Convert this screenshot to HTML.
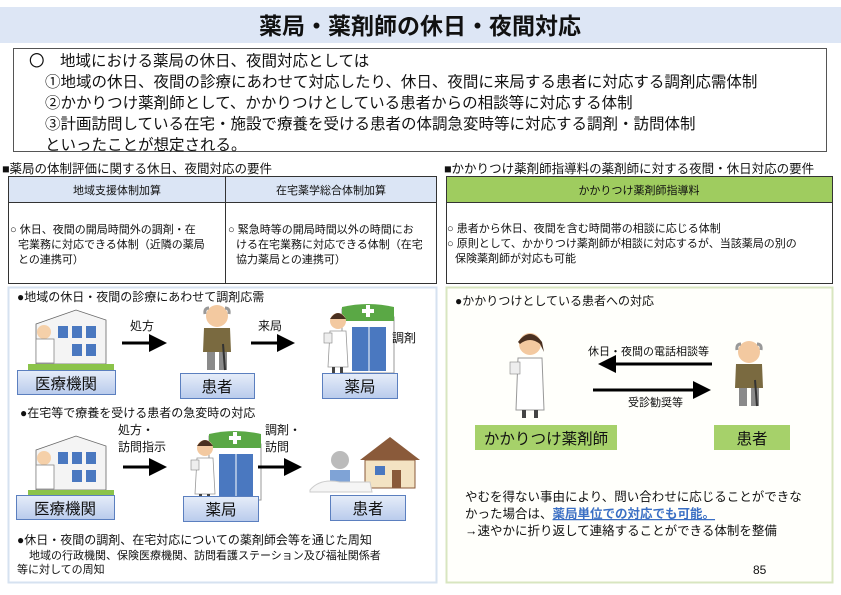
<!DOCTYPE html>
<html><head><meta charset="utf-8"><style>
html,body{margin:0;padding:0;background:#fff;}
svg{display:block;}
text{font-family:"Liberation Sans","Noto Sans CJK JP",sans-serif;fill:#111;}
</style></head><body>
<svg width="841" height="595" viewBox="0 0 841 595" xmlns="http://www.w3.org/2000/svg">
<defs>
<linearGradient id="bl" x1="0" y1="0" x2="0" y2="1"><stop offset="0" stop-color="#e6edf9"/><stop offset="1" stop-color="#b9cbec"/></linearGradient>
<marker id="ah" markerWidth="6" markerHeight="6" refX="5" refY="3" orient="auto" markerUnits="strokeWidth"><path d="M0,0 L6,3 L0,6 z" fill="#000"/></marker>
<g id="bld">
<path d="M0,22 L40,8 L70,18 L70,62 L0,62 z" fill="#f4f4f4" stroke="#666" stroke-width="0.8"/>
<rect x="22" y="24" width="10" height="12" fill="#4a78c0"/><rect x="36" y="24" width="10" height="12" fill="#4a78c0"/><rect x="50" y="24" width="10" height="12" fill="#4a78c0"/>
<rect x="36" y="42" width="10" height="12" fill="#4a78c0"/><rect x="50" y="42" width="10" height="12" fill="#4a78c0"/>
<path d="M-8,62 L78,62 L78,68 L-8,68z" fill="#8bc34a"/>
<circle cx="8" cy="30" r="7" fill="#f5d0a9"/><rect x="0" y="37" width="18" height="24" fill="#fff" stroke="#888" stroke-width="0.8"/>
</g>
<g id="pat">
<circle cx="16" cy="12" r="11" fill="#f3c9a0"/><path d="M4,10 Q3,4 8,4 M28,10 Q29,4 24,4" stroke="#999" stroke-width="3" fill="none"/>
<path d="M3,24 L29,24 L30,48 L2,48z" fill="#7a6a40"/>
<rect x="6" y="48" width="8" height="18" fill="#8a8a8a"/><rect x="18" y="48" width="8" height="18" fill="#8a8a8a"/>
<line x1="22" y1="40" x2="24" y2="66" stroke="#333" stroke-width="2"/>
</g>
<g id="phar">
<path d="M14,6 L60,6 L66,14 L66,70 L14,70z" fill="#fff" stroke="#999"/>
<path d="M14,4 Q40,-2 66,4 L66,18 L14,18z" fill="#5aa845"/>
<rect x="34" y="6" width="12" height="4" fill="#fff"/><rect x="38" y="2" width="4" height="12" fill="#fff"/>
<rect x="24" y="24" width="34" height="44" fill="#4a78c0"/><line x1="41" y1="24" x2="41" y2="68" stroke="#fff"/>
<circle cx="10" cy="18" r="8" fill="#f3c9a0"/><path d="M2,16 Q10,4 18,16" fill="#4a3020"/>
<path d="M2,28 L18,28 L20,64 L0,64z" fill="#fff" stroke="#999" stroke-width="0.8"/>
<rect x="-4" y="30" width="8" height="10" fill="#eee" stroke="#888" stroke-width="0.6"/>
<rect x="4" y="64" width="3" height="8" fill="#444"/><rect x="12" y="64" width="3" height="8" fill="#444"/>
</g>
</defs>

<rect x="0" y="7" width="841" height="36" fill="#dde6f5"/>
<text x="420" y="34" text-anchor="middle" font-size="23" font-weight="bold">薬局・薬剤師の休日・夜間対応</text>

<rect x="13.5" y="48.5" width="813" height="103" fill="#fff" stroke="#555"/>
<g font-size="15.5">
<text x="29" y="66">〇　地域における薬局の休日、夜間対応としては</text>
<text x="45" y="87">①地域の休日、夜間の診療にあわせて対応したり、休日、夜間に来局する患者に対応する調剤応需体制</text>
<text x="45" y="108">②かかりつけ薬剤師として、かかりつけとしている患者からの相談等に対応する体制</text>
<text x="45" y="129">③計画訪問している在宅・施設で療養を受ける患者の体調急変時等に対応する調剤・訪問体制</text>
<text x="45" y="150">といったことが想定される。</text>
</g>

<text x="2" y="173" font-size="12.5">■薬局の体制評価に関する休日、夜間対応の要件</text>
<rect x="8.5" y="176.5" width="428" height="107" fill="#fff" stroke="#333"/>
<rect x="9" y="177" width="427" height="25" fill="#dbe5f5"/>
<line x1="8" y1="202.5" x2="437" y2="202.5" stroke="#333"/>
<line x1="225.5" y1="176" x2="225.5" y2="284" stroke="#333"/>
<g font-size="11">
<text x="117" y="194" text-anchor="middle">地域支援体制加算</text>
<text x="331" y="194" text-anchor="middle">在宅薬学総合体制加算</text>
<text x="10" y="233">○ 休日、夜間の開局時間外の調剤・在</text>
<text x="18" y="248">宅業務に対応できる体制（近隣の薬局</text>
<text x="18" y="263">との連携可）</text>
<text x="228" y="233">○ 緊急時等の開局時間以外の時間にお</text>
<text x="236" y="248">ける在宅業務に対応できる体制（在宅</text>
<text x="236" y="263">協力薬局との連携可）</text>
</g>

<text x="444" y="173" font-size="12.5">■かかりつけ薬剤師指導料の薬剤師に対する夜間・休日対応の要件</text>
<rect x="446.5" y="176.5" width="386" height="107" fill="#fff" stroke="#333"/>
<rect x="447" y="177" width="385" height="25" fill="#9fcc5f"/>
<line x1="446" y1="202.5" x2="833" y2="202.5" stroke="#333"/>
<g font-size="11">
<text x="639" y="194" text-anchor="middle">かかりつけ薬剤師指導料</text>
<text x="447" y="232">○ 患者から休日、夜間を含む時間帯の相談に応じる体制</text>
<text x="447" y="247">○ 原則として、かかりつけ薬剤師が相談に対応するが、当該薬局の別の</text>
<text x="455" y="262">保険薬剤師が対応も可能</text>
</g>

<rect x="8.5" y="287.5" width="428" height="295" fill="#fff" stroke="#d6e2f0" stroke-width="2"/>
<text x="17" y="301" font-size="12">●地域の休日・夜間の診療にあわせて調剤応需</text>
<use href="#bld" transform="translate(36,302)"/>
<rect x="17.5" y="370.5" width="98" height="24" fill="url(#bl)" stroke="#5b7fbf"/>
<text x="66" y="389" font-size="15.5" text-anchor="middle">医療機関</text>
<text x="130" y="330" font-size="12">処方</text>
<line x1="122" y1="343" x2="164" y2="343" stroke="#000" stroke-width="3" marker-end="url(#ah)"/>
<use href="#pat" transform="translate(201,304)"/>
<rect x="180.5" y="373.5" width="74" height="25" fill="url(#bl)" stroke="#5b7fbf"/>
<text x="217" y="392" font-size="15.5" text-anchor="middle">患者</text>
<text x="258" y="330" font-size="12">来局</text>
<line x1="251" y1="343" x2="292" y2="343" stroke="#000" stroke-width="3" marker-end="url(#ah)"/>
<use href="#phar" transform="translate(328,303)"/>
<text x="392" y="342" font-size="12">調剤</text>
<rect x="322.5" y="373.5" width="75" height="25" fill="url(#bl)" stroke="#5b7fbf"/>
<text x="360" y="392" font-size="15.5" text-anchor="middle">薬局</text>

<text x="20" y="417" font-size="12">●在宅等で療養を受ける患者の急変時の対応</text>
<use href="#bld" transform="translate(36,428)"/>
<rect x="16.5" y="495.5" width="98" height="24" fill="url(#bl)" stroke="#5b7fbf"/>
<text x="65" y="514" font-size="15.5" text-anchor="middle">医療機関</text>
<text x="118" y="434" font-size="12">処方・</text>
<text x="118" y="451" font-size="12">訪問指示</text>
<line x1="123" y1="467" x2="164" y2="467" stroke="#000" stroke-width="3" marker-end="url(#ah)"/>
<use href="#phar" transform="translate(195,430)"/>
<rect x="183.5" y="496.5" width="75" height="25" fill="url(#bl)" stroke="#5b7fbf"/>
<text x="221" y="515" font-size="15.5" text-anchor="middle">薬局</text>
<text x="265" y="434" font-size="12">調剤・</text>
<text x="265" y="451" font-size="12">訪問</text>
<line x1="258" y1="467" x2="299" y2="467" stroke="#000" stroke-width="3" marker-end="url(#ah)"/>
<path d="M360,460 L390,437 L420,460 z" fill="#8a5a3a"/>
<rect x="365" y="460" width="50" height="28" fill="#f3e3c3" stroke="#8a5a3a"/>
<rect x="375" y="466" width="10" height="9" fill="#4a78c0"/><rect x="392" y="470" width="9" height="18" fill="#8a5a3a"/>
<circle cx="340" cy="460" r="9" fill="#bbb"/><rect x="330" y="470" width="20" height="14" fill="#7fa3d6"/>
<path d="M310,490 Q320,478 340,482 L370,482 L372,492 L310,492z" fill="#f5f5f5" stroke="#ccc"/>
<rect x="330.5" y="495.5" width="75" height="25" fill="url(#bl)" stroke="#5b7fbf"/>
<text x="368" y="514" font-size="15.5" text-anchor="middle">患者</text>

<text x="17" y="544" font-size="12">●休日・夜間の調剤、在宅対応についての薬剤師会等を通じた周知</text>
<text x="29" y="559" font-size="11">地域の行政機関、保険医療機関、訪問看護ステーション及び福祉関係者</text>
<text x="17" y="573" font-size="11">等に対しての周知</text>

<rect x="446.5" y="287.5" width="386" height="295" fill="#fffffb" stroke="#d8e6c0" stroke-width="2"/>
<text x="455" y="305" font-size="12">●かかりつけとしている患者への対応</text>
<g transform="translate(510,330)">
<circle cx="20" cy="14" r="11" fill="#f3c9a0"/><path d="M8,12 Q20,-4 32,12 L34,22 L30,14 Q20,6 10,14z" fill="#4a3020"/>
<path d="M8,28 L32,28 L34,80 L6,80z" fill="#fff" stroke="#999"/>
<rect x="0" y="32" width="10" height="12" fill="#eee" stroke="#888" stroke-width="0.6"/>
<rect x="12" y="80" width="4" height="8" fill="#444"/><rect x="24" y="80" width="4" height="8" fill="#444"/>
</g>
<text x="588" y="355" font-size="11">休日・夜間の電話相談等</text>
<line x1="712" y1="364" x2="601" y2="364" stroke="#000" stroke-width="3" marker-end="url(#ah)"/>
<use href="#pat" transform="translate(733,340)"/>
<line x1="593" y1="390" x2="708" y2="390" stroke="#000" stroke-width="3" marker-end="url(#ah)"/>
<text x="628" y="406" font-size="11">受診勧奨等</text>
<rect x="475" y="425" width="142" height="25" fill="#a6d16a"/>
<text x="546" y="444" font-size="15.5" text-anchor="middle">かかりつけ薬剤師</text>
<rect x="714" y="425" width="76" height="25" fill="#a6d16a"/>
<text x="752" y="444" font-size="15.5" text-anchor="middle">患者</text>
<g font-size="12.5">
<text x="465" y="501">やむを得ない事由により、問い合わせに応じることができな</text>
<text x="465" y="518">かった場合は、<tspan font-weight="bold" style="fill:#3a6fc4" text-decoration="underline">薬局単位での対応でも可能。</tspan></text>
<text x="465" y="535">→速やかに折り返して連絡することができる体制を整備</text>
</g>
<text x="753" y="574" font-size="12">85</text>
</svg>
</body></html>
